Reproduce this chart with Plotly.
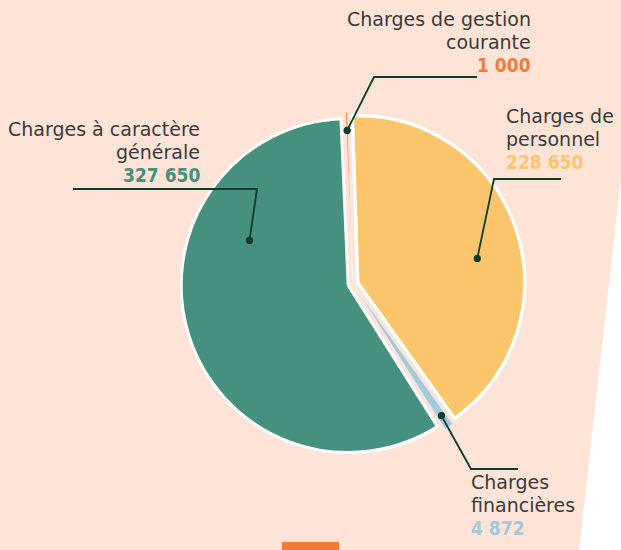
import math
import plotly.graph_objects as go

# ---------------- data ----------------
categories = ["Charges de gestion courante", "Charges de personnel",
              "Charges financières", "Charges à caractère générale"]
label_lines = [["Charges de gestion", "courante"],
               ["Charges de", "personnel"],
               ["Charges", "financières"],
               ["Charges à caractère", "générale"]]
values = [1000, 228650, 4872, 327650]
value_labels = ["1 000", "228 650", "4 872", "327 650"]
colors = ["#f07c3a", "#fbc66b", "#a3c9dd", "#45907f"]

# ---------------- layout / style ----------------
W, H = 621, 550
BG = "#fee4d6"
TEXT = "#3a3a3a"
LEADER = "#0c3d2d"
FONT = "DejaVu Sans"
NUM_FONT = "DejaVu Sans Condensed, DejaVu Sans"
FS = 19
LINE_GAP = 23

cx, cy, r = 353, 284, 167      # pie centre / radius (pixels)
pull = 0.03
rotation = -2.5
slice_line_widths = [0.6, 3.5, 0.4, 3.0]

# anchor of the leader dot inside each slice: (fraction of slice angle, fraction of radius)
dot_anchor = [(0.5, 0.89), (0.55, 0.73), (0.5, 0.92), (0.70, 0.65)]
# leader elbow and end points (pixels)
elbows = [(374, 77), (494, 179), (471, 469), (257, 189)]
ends = [(477, 77), (561, 179), (518, 469), (73, 189)]
# label anchors: (x, first baseline y, side)
label_pos = [(532, 26, "right"), (505, 123, "left"), (470, 489, "left"), (201, 136, "right")]


def px(x):
    return x / W


def py(y):
    return 1 - y / H


box = 2 * r * (1 + pull)
domain_x = [px(cx - box / 2), px(cx + box / 2)]
domain_y = [py(cy + box / 2), py(cy - box / 2)]

fig = go.Figure()
fig.add_trace(go.Pie(
    labels=categories, values=values, sort=False, direction="clockwise",
    rotation=rotation, pull=[pull] * len(values), textinfo="none",
    marker=dict(colors=colors, line=dict(color="white", width=slice_line_widths)),
    domain=dict(x=domain_x, y=domain_y), showlegend=False,
    hovertemplate="%{label}: %{value}<extra></extra>",
))

shapes = []
# white wedge on the right-hand side of the page
shapes.append(dict(type="path", xref="paper", yref="paper", layer="below",
                   path=f"M {px(622)} {py(168)} L {px(622)} {py(551)} L {px(579)} {py(551)} Z",
                   fillcolor="white", line=dict(width=0)))
# orange tab at the bottom
shapes.append(dict(type="rect", xref="paper", yref="paper", layer="below",
                   x0=px(282), x1=px(339), y0=py(551), y1=py(542),
                   fillcolor="#f27a35", line=dict(width=0)))

total = sum(values)
start = rotation
annotations = []
for i, v in enumerate(values):
    span = v / total * 360
    mid = start + span / 2
    ox = cx + pull * r * math.sin(math.radians(mid))
    oy = cy - pull * r * math.cos(math.radians(mid))
    t, rf = dot_anchor[i]
    a = math.radians(start + t * span)
    dx = ox + rf * r * math.sin(a)
    dy = oy - rf * r * math.cos(a)
    start += span

    ex, ey = elbows[i]
    fx, fy = ends[i]
    shapes.append(dict(type="path", xref="paper", yref="paper",
                       path=f"M {px(dx)} {py(dy)} L {px(ex)} {py(ey)} L {px(fx)} {py(fy)}",
                       line=dict(color=LEADER, width=1.8)))
    dr = 3.6
    shapes.append(dict(type="circle", xref="paper", yref="paper",
                       x0=px(dx - dr), x1=px(dx + dr), y0=py(dy + dr), y1=py(dy - dr),
                       fillcolor=LEADER, line=dict(width=0)))

    lx, ly, side = label_pos[i]
    lines = [(s, TEXT, FONT, 400) for s in label_lines[i]] + \
        [(value_labels[i], colors[i], NUM_FONT, 700)]
    for k, (s, col, fam, wt) in enumerate(lines):
        baseline = ly + k * LINE_GAP
        annotations.append(dict(x=px(lx), y=py(baseline - 6.6), xref="paper", yref="paper",
                                xanchor=side, yanchor="middle", align=side,
                                showarrow=False, text=s, borderpad=0,
                                font=dict(family=fam, size=FS, color=col, weight=wt)))

fig.update_layout(width=W, height=H, margin=dict(l=0, r=0, t=0, b=0),
                  paper_bgcolor=BG, plot_bgcolor=BG,
                  shapes=shapes, annotations=annotations)
fig.write_html("out.html", config={"displayModeBar": False},
               post_script="document.body.style.margin='0';")
